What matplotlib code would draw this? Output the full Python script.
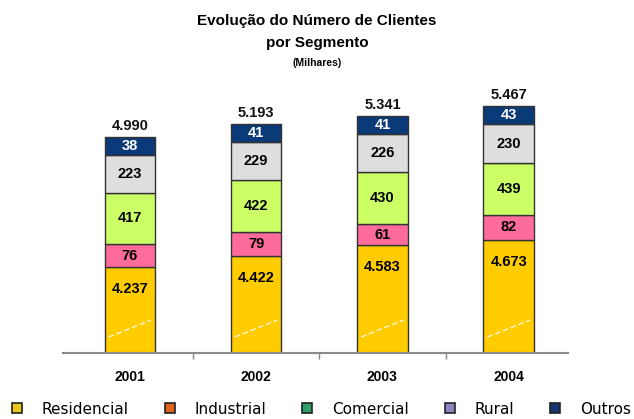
import numpy as np
import matplotlib
matplotlib.use("Agg")
import matplotlib.pyplot as plt
from matplotlib.lines import Line2D

# ---------------- data ----------------
years = ["2001", "2002", "2003", "2004"]
segments = ["Residencial", "Industrial", "Comercial", "Rural", "Outros"]
residencial = [4237, 4422, 4583, 4673]
industrial = [76, 79, 61, 82]
comercial = [417, 422, 430, 439]
rural = [223, 229, 226, 230]
outros = [38, 41, 41, 43]
totals = [4990, 5193, 5341, 5467]

title_lines = ["Evolução do Número de Clientes", "por Segmento", "(Milhares)"]

# ---------------- styles ----------------
bar_colors = ["#FFCC00", "#FF6C9C", "#CCFF66", "#DEDEDE", "#0B3A78"]
legend_colors = ["#E8C81A", "#E0621C", "#2E9E6A", "#8A84C0", "#16386E"]
label_colors = ["black", "black", "black", "black", "white"]
edge = "#333333"

plt.rcParams["font.family"] = ["Liberation Sans", "DejaVu Sans"]

# display scale: residencial is drawn on a broken linear axis,
# the small segments on a compressed (square-root) scale
RES_BREAK = 2900
RES_UNIT = 0.064


def res_height(v):
    return (np.asarray(v, dtype=float) - RES_BREAK) * RES_UNIT


def seg_height(v):
    return 3 + 2.35 * np.sqrt(np.asarray(v, dtype=float))


def fmt(v):
    return f"{v:,}".replace(",", ".")


W, H = 634, 419
fig = plt.figure(figsize=(W / 100, H / 100), dpi=100)
ax = fig.add_axes([63 / W, (H - 353) / H, (568 - 63) / W, 265 / H])

x = np.arange(len(years))
width = 0.40
series = [residencial, industrial, comercial, rural, outros]
heights = [res_height(residencial)] + [seg_height(s) for s in series[1:]]

bottom = np.zeros(len(years))
for i, (vals, hts) in enumerate(zip(series, heights)):
    ax.bar(x, hts, width, bottom=bottom, color=bar_colors[i],
           edgecolor=edge, linewidth=1.0, zorder=2)
    for j in range(len(years)):
        if i == 0:
            ty = bottom[j] + hts[j] - 22
        else:
            ty = bottom[j] + hts[j] / 2
        ax.text(x[j], ty, fmt(vals[j]), ha="center", va="center",
                fontsize=10.5, fontweight="bold", color=label_colors[i], zorder=4)
    bottom = bottom + hts

# break marker (white dashed diagonal) in the residencial segment
for j in range(len(years)):
    ax.plot([x[j] - width * 0.42, x[j] + width * 0.42], [16, 33],
            color="white", lw=1.0, ls=(0, (4, 2)), alpha=0.85, zorder=3)

# totals above bars
for j in range(len(years)):
    ax.text(x[j], bottom[j] + 11, fmt(totals[j]), ha="center", va="center",
            fontsize=10.5, fontweight="bold", color="#111111")

ax.set_xlim(-0.53, 3.47)
ax.set_ylim(0, 265)
for s in ["top", "right", "left"]:
    ax.spines[s].set_visible(False)
ax.spines["bottom"].set_color("#8a8a8a")
ax.spines["bottom"].set_linewidth(1.5)
ax.set_yticks([])
ax.set_xticks(x)
ax.set_xticklabels(years, fontsize=10, fontweight="bold")
ax.tick_params(axis="x", which="major", length=0, pad=12)
ax.set_xticks([0.5, 1.5, 2.5], minor=True)
ax.tick_params(axis="x", which="minor", length=4, color="#8a8a8a", width=1)

# title
fig.text(0.5, 1 - 21 / H, title_lines[0], ha="center", va="center",
         fontsize=11, fontweight="bold")
fig.text(0.5, 1 - 43 / H, title_lines[1], ha="center", va="center",
         fontsize=11, fontweight="bold")
fig.text(0.5, 1 - 63 / H, title_lines[2], ha="center", va="center",
         fontsize=7.5, fontweight="bold")

# legend
handles = [Line2D([], [], ls="none", marker="s", markersize=7,
                  markerfacecolor=c, markeredgecolor="#222222", markeredgewidth=1.2)
           for c in legend_colors]
fig.legend(handles, segments, loc="center", bbox_to_anchor=(0.505, 1 - 409 / H),
           ncol=5, frameon=False, handlelength=1.0, handletextpad=1.1,
           columnspacing=2.2, borderpad=0.1, borderaxespad=0.0,
           prop={"family": "DejaVu Sans", "size": 11})

fig.savefig("out.png", dpi=100)
